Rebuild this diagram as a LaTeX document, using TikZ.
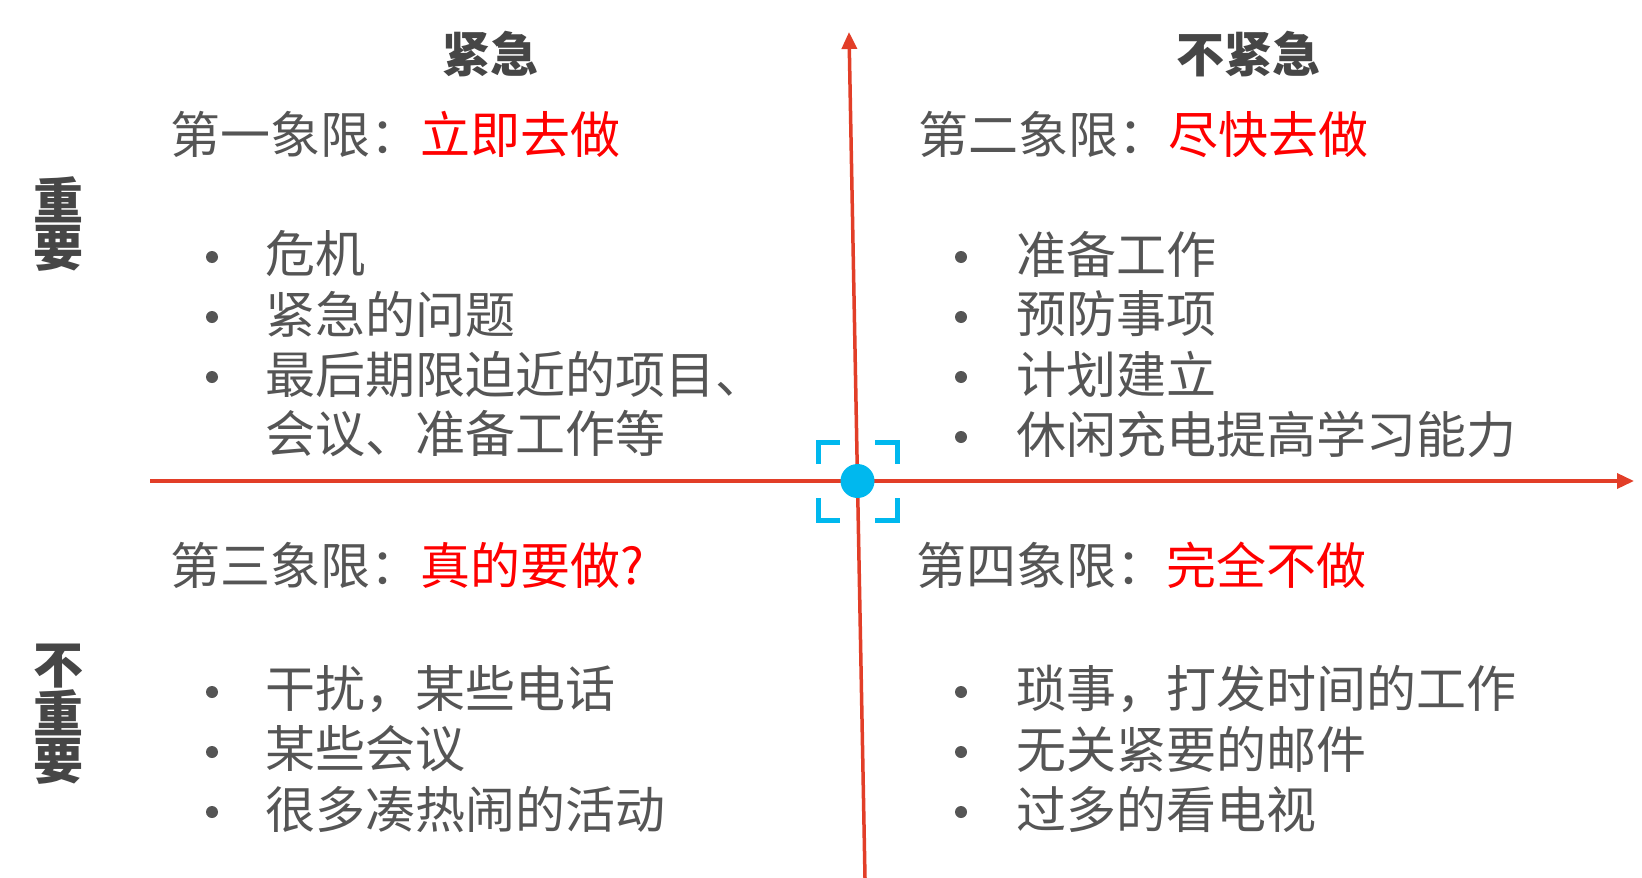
\documentclass[tikz,border=0pt]{standalone}
\usepackage{fontspec}
\newfontfamily\cjk{Noto Sans CJK SC}
\usetikzlibrary{arrows.meta}
\definecolor{axisred}{RGB}{226,62,40}
\definecolor{markblue}{RGB}{0,184,238}
\definecolor{txtgray}{RGB}{85,85,85}
\definecolor{headgray}{RGB}{70,70,70}
\definecolor{hotred}{RGB}{255,0,0}
\tikzset{
  axisline/.style={draw=axisred, line width=3.5pt, -{Triangle[length=17pt,width=15pt]}},
  headtxt/.style={font=\cjk\bfseries\fontsize{48}{48}\selectfont, text=headgray, inner sep=0pt},
  sidetxt/.style={font=\cjk\bfseries\fontsize{50}{47}\selectfont, text=headgray, inner sep=0pt, align=center},
  titletxt/.style={font=\cjk\fontsize{50}{60}\selectfont, text=txtgray, inner sep=0pt, anchor=west},
  itemtxt/.style={font=\cjk\fontsize{50}{60}\selectfont, text=txtgray, inner sep=0pt, anchor=west, align=left},
  bulletdot/.style={fill=txtgray, circle, inner sep=0pt, minimum size=12pt},
  bracket/.style={draw=markblue, line width=5pt},
}
\begin{document}
\begin{tikzpicture}[x=1pt,y=-1pt]
\useasboundingbox (0,0) rectangle (1642,878);
% axes
\coordinate (hstart) at (150,481);
\coordinate (hend) at (1634,481);
\coordinate (vstart) at (865,878);
\coordinate (vend) at (849,32);
\draw[axisline] (hstart) -- (hend);
\draw[axisline] (vstart) -- (vend);
% center marker
\node[circle, fill=markblue, inner sep=0pt, minimum size=34pt] (center) at (857.5,481) {};
\draw[bracket] (818,464) -- (818,442) -- (840,442);
\draw[bracket] (875,442) -- (897,442) -- (897,464);
\draw[bracket] (818,498) -- (818,520) -- (840,520);
\draw[bracket] (875,520) -- (897,520) -- (897,498);
% headings
\node[headtxt] (urg) at (490,54) {紧急};
\node[headtxt] (nurg) at (1248,54) {不紧急};
\node[sidetxt] (imp) at (59,224) {重\\要};
\node[sidetxt] (nimp) at (59,714) {不\\重\\要};
% quadrant titles
\node[titletxt] (t1) at (170,134) {第一象限：\textcolor{hotred}{立即去做}};
\node[titletxt] (t2) at (918,134) {第二象限：\textcolor{hotred}{尽快去做}};
\node[titletxt] (t3) at (170,565) {第三象限：\textcolor{hotred}{真的要做?}};
\node[titletxt] (t4) at (916,565) {第四象限：\textcolor{hotred}{完全不做}};
% Q1 items
\node[bulletdot] (b1a) at (212,257) {};
\node[itemtxt] (q1a) at (265,254) {危机};
\node[bulletdot] (b1b) at (212,317) {};
\node[itemtxt] (q1b) at (265,314) {紧急的问题};
\node[bulletdot] (b1c) at (212,377) {};
\node[itemtxt] (q1c) at (265,374) {最后期限迫近的项目、};
\node[itemtxt] (q1d) at (265,434) {会议、准备工作等};
% Q2 items
\node[bulletdot] (b2a) at (961,257) {};
\node[itemtxt] (q2a) at (1016,254) {准备工作};
\node[bulletdot] (b2b) at (961,317) {};
\node[itemtxt] (q2b) at (1016,314) {预防事项};
\node[bulletdot] (b2c) at (961,377) {};
\node[itemtxt] (q2c) at (1016,374) {计划建立};
\node[bulletdot] (b2d) at (961,437) {};
\node[itemtxt] (q2d) at (1016,434) {休闲充电提高学习能力};
% Q3 items
\node[bulletdot] (b3a) at (212,692) {};
\node[itemtxt] (q3a) at (265,689) {干扰，某些电话};
\node[bulletdot] (b3b) at (212,752) {};
\node[itemtxt] (q3b) at (265,749) {某些会议};
\node[bulletdot] (b3c) at (212,812) {};
\node[itemtxt] (q3c) at (265,809) {很多凑热闹的活动};
% Q4 items
\node[bulletdot] (b4a) at (961,692) {};
\node[itemtxt] (q4a) at (1016,689) {琐事，打发时间的工作};
\node[bulletdot] (b4b) at (961,752) {};
\node[itemtxt] (q4b) at (1016,749) {无关紧要的邮件};
\node[bulletdot] (b4c) at (961,812) {};
\node[itemtxt] (q4c) at (1016,809) {过多的看电视};
\end{tikzpicture}
\end{document}
